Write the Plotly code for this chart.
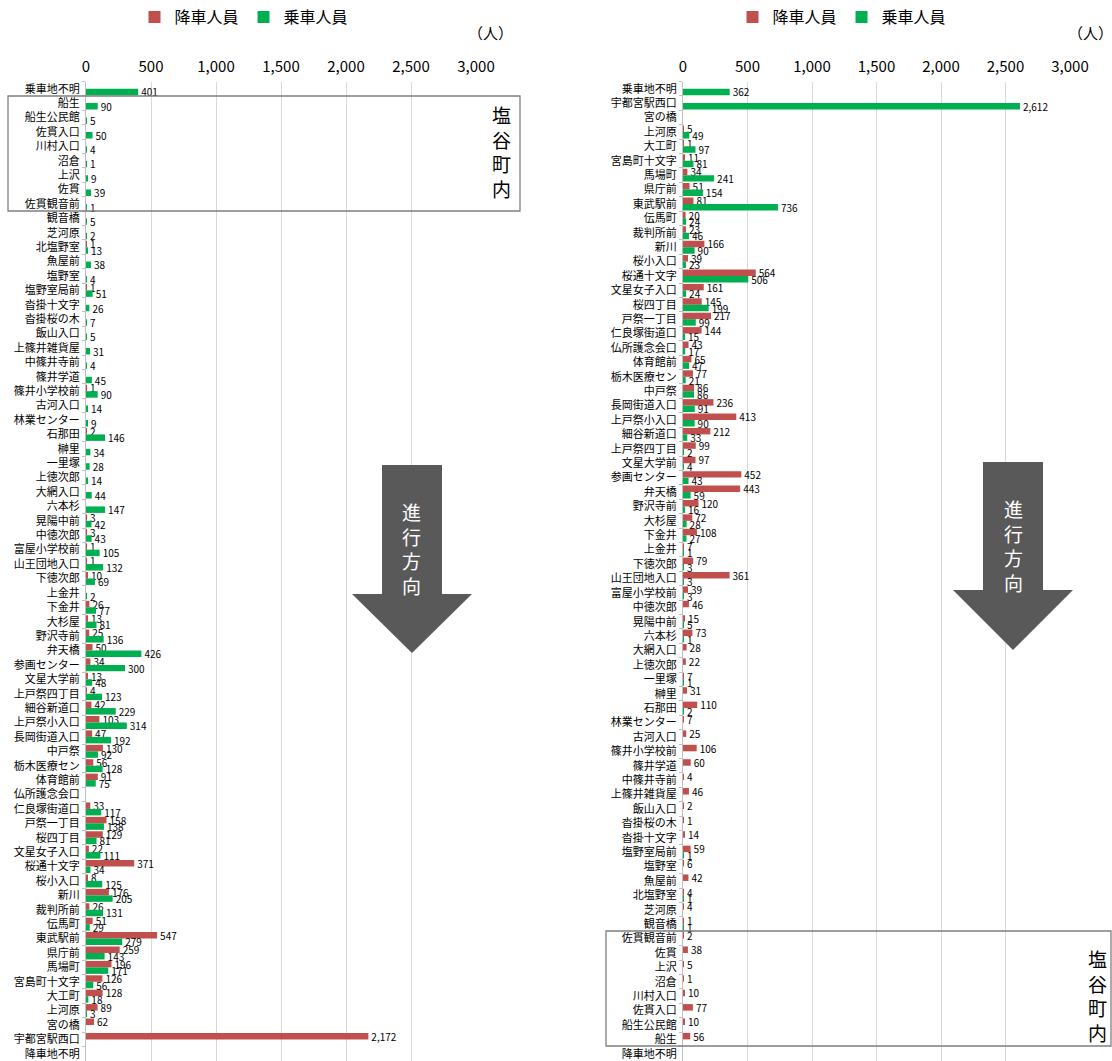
import plotly.graph_objects as go

# ---------------- data ----------------
cats_L = ["乗車地不明","船生","船生公民館","佐貫入口","川村入口","沼倉","上沢","佐貫","佐貫観音前","観音橋",
          "芝河原","北塩野室","魚屋前","塩野室","塩野室局前","沓掛十文字","沓掛桜の木","飯山入口","上篠井雑貨屋","中篠井寺前",
          "篠井学道","篠井小学校前","古河入口","林業センター","石那田","榊里","一里塚","上徳次郎","大網入口","六本杉",
          "晃陽中前","中徳次郎","富屋小学校前","山王団地入口","下徳次郎","上金井","下金井","大杉屋","野沢寺前","弁天橋",
          "参画センター","文星大学前","上戸祭四丁目","細谷新道口","上戸祭小入口","長岡街道入口","中戸祭","栃木医療セン","体育館前","仏所護念会口",
          "仁良塚街道口","戸祭一丁目","桜四丁目","文星女子入口","桜通十文字","桜小入口","新川","裁判所前","伝馬町","東武駅前",
          "県庁前","馬場町","宮島町十文字","大工町","上河原","宮の橋","宇都宮駅西口","降車地不明"]
alight_L = [None,None,None,None,None,None,None,None,None,None,
            None,1,None,None,1,None,None,None,None,None,
            None,1,None,None,2,None,None,None,None,None,
            3,3,1,1,10,None,26,13,25,50,
            34,13,4,42,103,47,130,56,91,None,
            33,158,129,22,371,8,176,26,51,547,
            259,196,126,128,89,62,2172,None]
board_L = [401,90,5,50,4,1,9,39,1,5,
           2,13,38,4,51,26,7,5,31,4,
           45,90,14,9,146,34,28,14,44,147,
           42,43,105,132,69,2,77,81,136,426,
           300,48,123,229,314,192,92,128,75,None,
           117,138,81,111,34,125,205,131,29,279,
           143,171,56,18,3,None,None,None]

cats_R = ["乗車地不明","宇都宮駅西口","宮の橋","上河原","大工町","宮島町十文字","馬場町","県庁前","東武駅前","伝馬町",
          "裁判所前","新川","桜小入口","桜通十文字","文星女子入口","桜四丁目","戸祭一丁目","仁良塚街道口","仏所護念会口","体育館前",
          "栃木医療セン","中戸祭","長岡街道入口","上戸祭小入口","細谷新道口","上戸祭四丁目","文星大学前","参画センター","弁天橋","野沢寺前",
          "大杉屋","下金井","上金井","下徳次郎","山王団地入口","富屋小学校前","中徳次郎","晃陽中前","六本杉","大網入口",
          "上徳次郎","一里塚","榊里","石那田","林業センター","古河入口","篠井小学校前","篠井学道","中篠井寺前","上篠井雑貨屋",
          "飯山入口","沓掛桜の木","沓掛十文字","塩野室局前","塩野室","魚屋前","北塩野室","芝河原","観音橋","佐貫観音前",
          "佐貫","上沢","沼倉","川村入口","佐貫入口","船生公民館","船生","降車地不明"]
alight_R = [None,None,None,5,1,11,34,51,81,20,
            23,166,39,564,161,145,217,144,43,65,
            77,86,236,413,212,99,97,452,443,120,
            72,108,7,79,361,39,46,15,73,28,
            22,7,31,110,7,25,106,60,4,46,
            2,1,14,59,6,42,4,4,1,2,
            38,5,1,10,77,10,56,None]
board_R = [362,2612,None,49,97,81,241,154,736,24,
           46,90,23,506,24,199,99,15,17,47,
           21,86,91,90,33,2,4,43,59,16,
           28,27,1,3,3,3,None,5,1,None,
           None,1,None,2,None,None,None,None,None,None,
           None,None,None,1,None,None,1,None,1,None,
           None,None,None,None,None,None,None,None]

x_ticks = [0, 500, 1000, 1500, 2000, 2500, 3000]
series_names = ["降車人員", "乗車人員"]

# ---------------- styling ----------------
W, H = 1112, 1061
RED, GREEN = "#C0504D", "#00B050"
FONT = "Noto Sans CJK JP"

def px(x):
    return x / W

def py(y):
    return 1 - y / H

def lab(vals):
    return ["" if v is None else f"{v:,}" for v in vals]

fig = go.Figure()

for cats, al, bo, xa, ya, lg in [(cats_L, alight_L, board_L, "x", "y", "legend"),
                                 (cats_R, alight_R, board_R, "x2", "y2", "legend2")]:
    for name, vals, col in [(series_names[0], al, RED), (series_names[1], bo, GREEN)]:
        fig.add_trace(go.Bar(
            y=cats, x=vals, name=name, orientation="h",
            marker=dict(color=col, line=dict(width=0)),
            text=lab(vals), textposition="outside", constraintext="none",
            textfont=dict(size=10, color="#000000", family=FONT),
            cliponaxis=False, xaxis=xa, yaxis=ya, legend=lg,
        ))

ytop = 1 - 81.5 / H
xaxis_common = dict(range=[0, 3000], tickvals=x_ticks, tickformat=",", side="top",
                    showgrid=True, gridcolor="#D9D9D9", gridwidth=1, zeroline=False,
                    showline=False, ticks="", ticklabelstandoff=6,
                    tickfont=dict(size=15, color="#000000", family=FONT), fixedrange=True)
yaxis_common = dict(autorange="reversed", type="category", showgrid=False,
                    showline=True, linecolor="#BFBFBF", linewidth=1,
                    ticks="outside", ticklen=3, tickcolor="#BFBFBF", tickson="boundaries",
                    ticklabelstandoff=3,
                    tickfont=dict(size=11, color="#000000", family=FONT),
                    domain=[0, ytop])

fig.update_layout(
    width=W, height=H,
    margin=dict(l=0, r=0, t=0, b=0, autoexpand=False),
    paper_bgcolor="white", plot_bgcolor="white",
    barmode="group", bargap=0.1, bargroupgap=0,
    font=dict(family=FONT, color="#000000"),
    xaxis=dict(domain=[px(86), px(476)], anchor="y", **xaxis_common),
    yaxis=dict(anchor="x", categoryorder="array", categoryarray=cats_L, **yaxis_common),
    xaxis2=dict(domain=[px(683), px(1070)], anchor="y2", **xaxis_common),
    yaxis2=dict(anchor="x2", categoryorder="array", categoryarray=cats_R, **yaxis_common),
    legend=dict(orientation="h", x=px(244), y=py(17), xanchor="center", yanchor="middle",
                font=dict(size=16, family=FONT), itemwidth=30, bgcolor="rgba(0,0,0,0)"),
    legend2=dict(orientation="h", x=px(842), y=py(17), xanchor="center", yanchor="middle",
                 font=dict(size=16, family=FONT), itemwidth=30, bgcolor="rgba(0,0,0,0)"),
)

def arrow_path(cx, top, base, tip, half_shaft=30, half_head=60):
    pts = [(cx - half_shaft, top), (cx + half_shaft, top), (cx + half_shaft, base),
           (cx + half_head, base), (cx, tip), (cx - half_head, base), (cx - half_shaft, base)]
    return "M " + " L ".join(f"{px(x):.5f},{py(y):.5f}" for x, y in pts) + " Z"

shapes = [
    dict(type="rect", xref="paper", yref="paper", x0=px(8), x1=px(520), y0=py(211), y1=py(96),
         line=dict(color="#7F7F7F", width=1.3), fillcolor="rgba(0,0,0,0)"),
    dict(type="rect", xref="paper", yref="paper", x0=px(606), x1=px(1111), y0=py(1046), y1=py(931),
         line=dict(color="#7F7F7F", width=1.3), fillcolor="rgba(0,0,0,0)"),
    dict(type="path", xref="paper", yref="paper", path=arrow_path(412, 465, 594, 653),
         fillcolor="#595959", line=dict(width=0)),
    dict(type="path", xref="paper", yref="paper", path=arrow_path(1013, 462, 590, 650),
         fillcolor="#595959", line=dict(width=0)),
]
fig.update_layout(shapes=shapes)

annotations = [
    dict(text="塩<br>谷<br>町<br>内", x=px(501), y=py(151), font=dict(size=19, color="#000000")),
    dict(text="塩<br>谷<br>町<br>内", x=px(1097), y=py(995), font=dict(size=19, color="#000000")),
    dict(text="進<br>行<br>方<br>向", x=px(412), y=py(548), font=dict(size=19, color="#FFFFFF")),
    dict(text="進<br>行<br>方<br>向", x=px(1013), y=py(545), font=dict(size=19, color="#FFFFFF")),
    dict(text="（人）", x=px(490), y=py(33), font=dict(size=15, color="#000000")),
    dict(text="（人）", x=px(1090), y=py(33), font=dict(size=15, color="#000000")),
]
for a in annotations:
    a.update(xref="paper", yref="paper", showarrow=False, xanchor="center", yanchor="middle")
    a["font"]["family"] = FONT
fig.update_layout(annotations=annotations)

fig.write_html("out.html", config={"displayModeBar": False},
               post_script="document.body.style.margin='0';")
